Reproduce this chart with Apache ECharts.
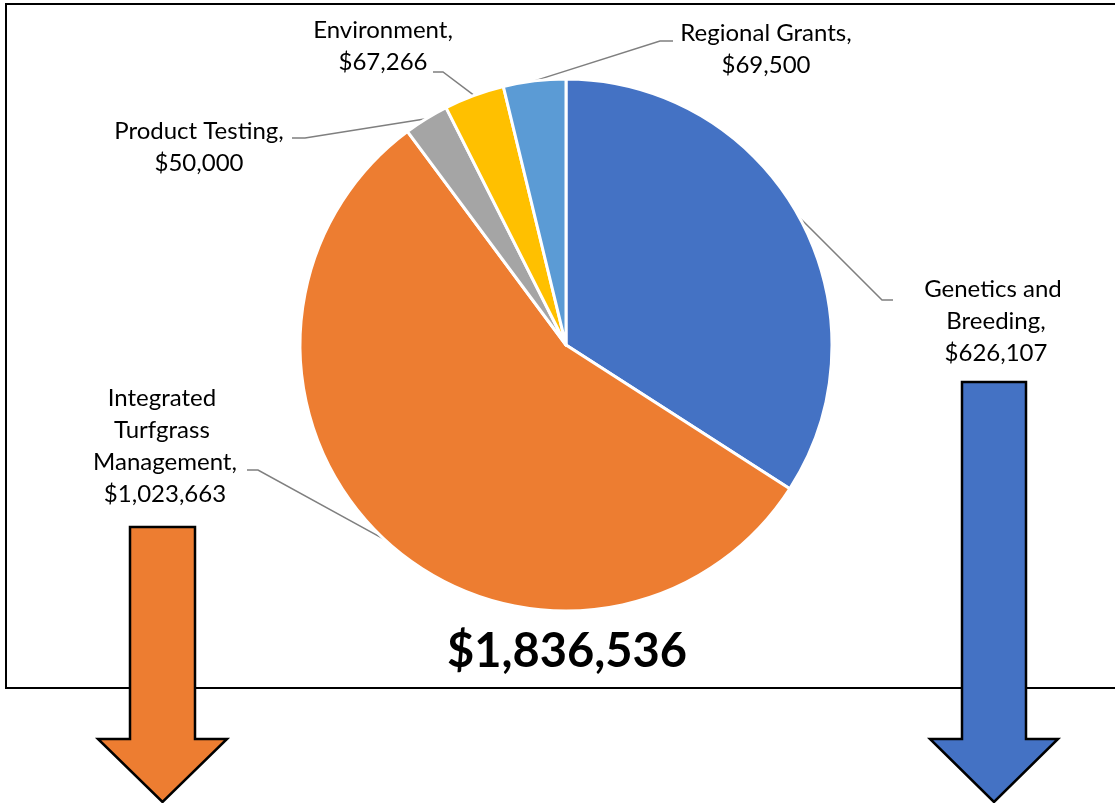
<!DOCTYPE html>
<html>
<head>
<meta charset="utf-8">
<script src="https://cdn.jsdelivr.net/npm/echarts@6/dist/echarts.min.js"></script>
<style>
  html, body { margin: 0; padding: 0; background: #ffffff; }
  #chart { width: 1115px; height: 803px; }
</style>
</head>
<body>
<div id="chart"></div>
<script>
// Funding by program area
const categories = ['Genetics and Breeding', 'Integrated Turfgrass Management', 'Product Testing', 'Environment', 'Regional Grants'];
const budget = [626107, 1023663, 50000, 67266, 69500];
const sliceColors = ['#4472C4', '#ED7D31', '#A5A5A5', '#FFC000', '#5B9BD5'];

// Where each label box sits, how wide it wraps, and the bend of its leader line
const labelPlacement = [
  { x: 996, y: 321, width: 160, elbow: [882, 300], end: [893, 300] },
  { x: 165, y: 446, width: 160, elbow: [258, 470], end: [247, 470] },
  { x: 199, y: 147, width: 240, elbow: [305, 138], end: [292, 138] },
  { x: 383, y: 46,  width: 200, elbow: [443, 72],  end: [433, 72] },
  { x: 766, y: 49,  width: 240, elbow: [660, 41],  end: [673, 41] }
];

const PIE_CENTER = [566, 345];
const PIE_RADIUS = 266;

const money = v => '$' + v.toLocaleString('en-US');
const total = budget.reduce((a, b) => a + b, 0);

const pieData = categories.map((name, i) => ({
  name: name,
  value: budget[i],
  itemStyle: { color: sliceColors[i] },
  label: { width: labelPlacement[i].width, overflow: 'break' }
}));

// Down-pointing block arrow outline
function blockArrow(cx, top, shaftHalf, headBase, headHalf, tip) {
  return [
    [cx - shaftHalf, top], [cx + shaftHalf, top], [cx + shaftHalf, headBase],
    [cx + headHalf, headBase], [cx, tip], [cx - headHalf, headBase], [cx - shaftHalf, headBase]
  ];
}

const chart = echarts.init(document.getElementById('chart'), null, { renderer: 'canvas' });

chart.setOption({
  backgroundColor: '#ffffff',
  animation: false,
  graphic: [
    {
      type: 'rect', silent: true, z: 0,
      shape: { x: 6, y: 4, width: 1200, height: 684 },
      style: { fill: 'none', stroke: '#000000', lineWidth: 2 }
    },
    {
      type: 'text', silent: true, z: 10,
      x: 567, y: 652,
      style: {
        text: money(total),
        fontFamily: 'Lato', fontWeight: 'bold', fontSize: 47,
        fill: '#000000', align: 'center', verticalAlign: 'middle'
      }
    },
    {
      type: 'polygon', silent: true, z: 20,
      shape: { points: blockArrow(162.5, 527, 32.5, 739, 64.5, 802) },
      style: { fill: '#ED7D31', stroke: '#000000', lineWidth: 2.5, lineJoin: 'miter' }
    },
    {
      type: 'polygon', silent: true, z: 20,
      shape: { points: blockArrow(994, 382, 32, 739, 64, 802) },
      style: { fill: '#4472C4', stroke: '#000000', lineWidth: 2.5, lineJoin: 'miter' }
    }
  ],
  series: [
    {
      type: 'pie',
      center: PIE_CENTER,
      radius: PIE_RADIUS,
      startAngle: 90,
      clockwise: true,
      silent: true,
      data: pieData,
      itemStyle: { borderColor: '#ffffff', borderWidth: 3 },
      label: {
        show: true,
        position: 'outside',
        formatter: p => p.name + ',\n' + money(p.value),
        fontFamily: 'Lato',
        fontSize: 24,
        lineHeight: 32,
        color: '#000000',
        align: 'center'
      },
      labelLine: {
        show: true,
        length: 10,
        length2: 10,
        smooth: false,
        lineStyle: { color: '#7f7f7f', width: 1.5 }
      },
      labelLayout: function (params) {
        const L = labelPlacement[params.dataIndex];
        let anchor;
        if (params.labelLinePoints && params.labelLinePoints[0]) {
          anchor = params.labelLinePoints[0];
        } else {
          const r = params.rect;
          anchor = [r.x + r.width / 2, r.y + r.height / 2];
        }
        return {
          x: L.x,
          y: L.y,
          align: 'center',
          verticalAlign: 'middle',
          labelLinePoints: [anchor, L.elbow, L.end]
        };
      }
    }
  ]
});
</script>
</body>
</html>
